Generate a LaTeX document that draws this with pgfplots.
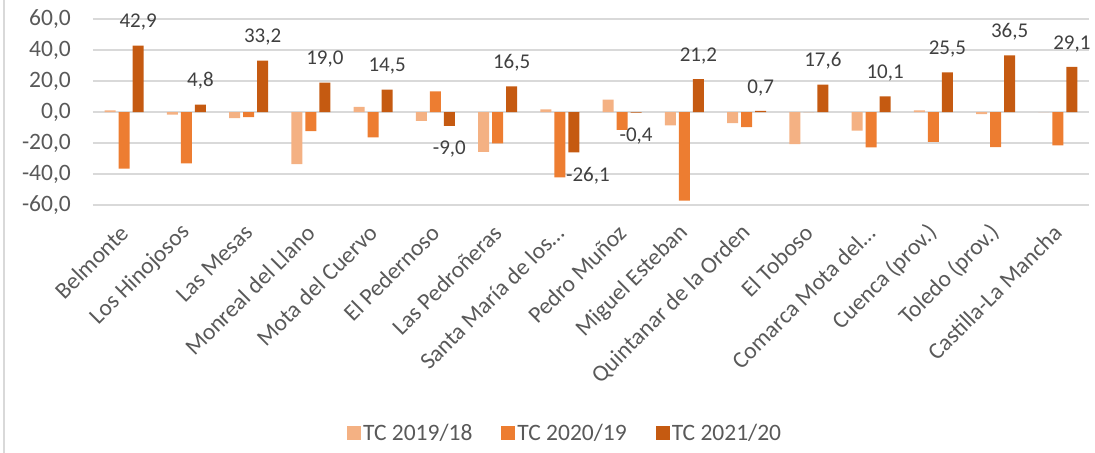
\documentclass[border=0pt]{standalone}
\usepackage{pgfplots}
\pgfplotsset{compat=1.18}
\usepackage{fontspec}
\setmainfont{Carlito}
\definecolor{c1}{HTML}{F4B183}
\definecolor{c2}{HTML}{ED7D31}
\definecolor{c3}{HTML}{C55A11}
\definecolor{gridc}{HTML}{D9D9D9}
\definecolor{txt}{HTML}{595959}
\definecolor{lbl}{HTML}{404040}
\begin{document}
\begin{tikzpicture}
\begin{axis}[
  name=ax,
  scale only axis,
  width=996bp, height=186bp,
  ybar=3bp, bar width=11bp,
  xmin=-0.5, xmax=15.5,
  ymin=-60, ymax=60,
  ytick={-60,-40,-20,0,20,40,60},
  xtick={0,...,15},
  xticklabels={Belmonte,Los Hinojosos,Las Mesas,Monreal del Llano,Mota del Cuervo,El Pedernoso,Las Pedroñeras,Santa María de los…,Pedro Muñoz,Miguel Esteban,Quintanar de la Orden,El Toboso,Comarca Mota del…,Cuenca (prov.),Toledo (prov.),Castilla-La Mancha},
  axis line style={draw=none},
  major tick length=0pt,
  ymajorgrids,
  grid style={gridc, line width=1.3bp},
  /pgf/number format/.cd, fixed, fixed zerofill, precision=1, use comma, assume math mode=true,
  /pgfplots/.cd,
  yticklabel style={font=\fontsize{23.5bp}{28bp}\selectfont, text=txt, anchor=east, inner sep=0pt, xshift=-22bp},
  xticklabel style={font=\fontsize{23.5bp}{28bp}\selectfont, text=txt, rotate=45, anchor=east, inner sep=0pt},
  xticklabel shift=24bp,
  clip=false,
  legend columns=3,
  legend style={at={(0.474,-1.226)}, anchor=center, draw=none, fill=none,
    font=\fontsize{23.5bp}{28bp}\selectfont, text=txt,
    /tikz/every even column/.append style={column sep=27bp}},
  legend image code/.code={\fill[#1] (0bp,-7bp) rectangle (14bp,7bp);},
]
\addplot[fill=c1, draw=none] coordinates {(0,1.1) (1,-1.7) (2,-3.9) (3,-33.7) (4,3.3) (5,-5.7) (6,-25.7) (7,1.7) (8,8.0) (9,-8.7) (10,-7.2) (11,-20.7) (12,-12.0) (13,1.0) (14,-1.3) (15,0.0)};
\addplot[fill=c2, draw=none] coordinates {(0,-36.5) (1,-33.2) (2,-3.3) (3,-12.4) (4,-16.3) (5,13.3) (6,-20.2) (7,-42.2) (8,-11.5) (9,-57.2) (10,-9.8) (11,0.0) (12,-22.8) (13,-19.3) (14,-22.6) (15,-21.5)};
\addplot[fill=c3, draw=none,
  nodes near coords,
  nodes near coords style={font=\fontsize{21bp}{25bp}\selectfont, text=lbl, inner xsep=0pt, inner ysep=15bp,
    /pgf/number format/.cd, fixed, fixed zerofill, precision=1, use comma, assume math mode=true},
  coordinate style/.condition={y < -20}{xshift=14bp}]
  coordinates {(0,42.9) (1,4.8) (2,33.2) (3,19.0) (4,14.5) (5,-9.0) (6,16.5) (7,-26.1) (8,-0.4) (9,21.2) (10,0.7) (11,17.6) (12,10.1) (13,25.5) (14,36.5) (15,29.1)};
\legend{TC 2019/18, TC 2020/19, TC 2021/20}
\end{axis}
\draw[gridc, line width=1.5bp] (ax.south west) ++(-89bp,-248bp) -- ++(0bp,453bp);
\pgfresetboundingbox
\path (ax.south west) ++(-93bp,-248bp) rectangle ++(1095bp,453bp);
\end{tikzpicture}
\end{document}
